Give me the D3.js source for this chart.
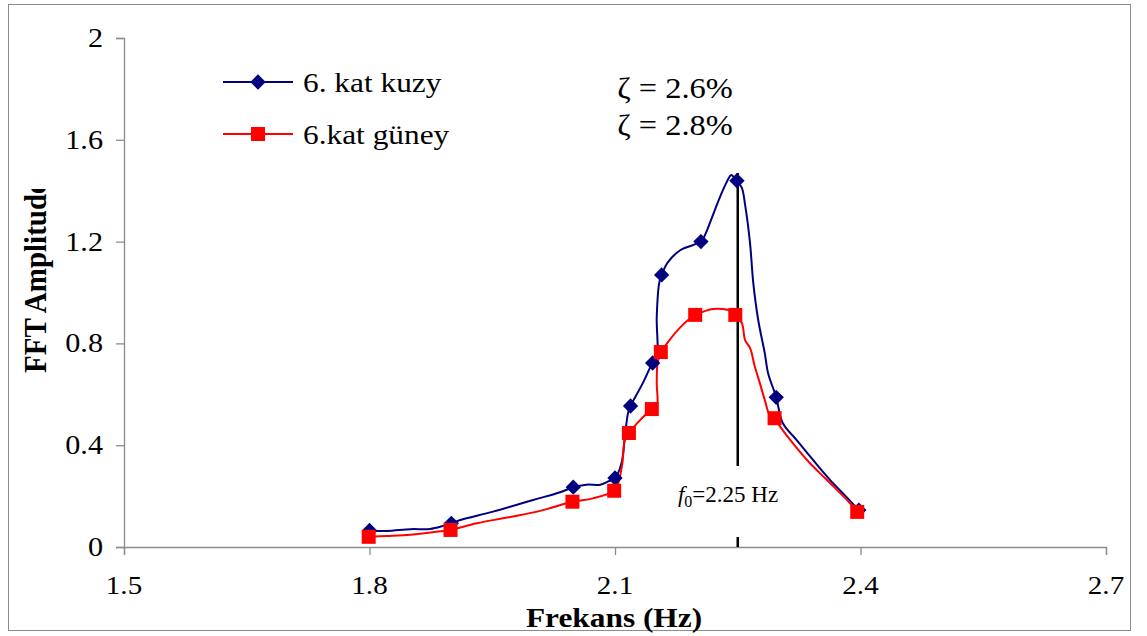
<!DOCTYPE html>
<html>
<head>
<meta charset="utf-8">
<script src="https://cdn.jsdelivr.net/npm/d3@7"></script>
<style>
  html, body { margin: 0; padding: 0; background: #fff; }
  svg { display: block; }
  text { font-family: "Liberation Serif", "Times New Roman", serif; fill: #000; }
</style>
</head>
<body>
<svg id="chart" width="1147" height="636"></svg>
<script>
// Axis ticks
const freqTicks = [1.5, 1.8, 2.1, 2.4, 2.7];
const freqTickLabels = ["1.5", "1.8", "2.1", "2.4", "2.7"];
const ampTicks = [0, 0.4, 0.8, 1.2, 1.6, 2];
const ampTickLabels = ["0", "0.4", "0.8", "1.2", "1.6", "2"];

// Series names
const seriesNames = ["6. kat kuzy", "6.kat güney"];

// 6th floor, north sensor: spectrum curve [frequency Hz, FFT amplitude]
const kuzyCurve = [
  [1.800, 0.065], [1.821, 0.063], [1.850, 0.070], [1.874, 0.071], [1.890, 0.083],
  [1.900, 0.093], [1.911, 0.106], [1.951, 0.139], [2.000, 0.185], [2.033, 0.215],
  [2.049, 0.235], [2.065, 0.245], [2.082, 0.245], [2.091, 0.257], [2.100, 0.271],
  [2.108, 0.330], [2.112, 0.432], [2.116, 0.527], [2.119, 0.554], [2.134, 0.644],
  [2.146, 0.723], [2.151, 0.740], [2.151, 0.904], [2.154, 1.037], [2.157, 1.069],
  [2.164, 1.116], [2.180, 1.167], [2.205, 1.200], [2.210, 1.226], [2.222, 1.324],
  [2.232, 1.403], [2.240, 1.455], [2.242, 1.462], [2.249, 1.439], [2.255, 1.411],
  [2.259, 1.344], [2.265, 1.194], [2.269, 1.037], [2.275, 0.892], [2.283, 0.762],
  [2.287, 0.684], [2.297, 0.588], [2.305, 0.487], [2.322, 0.420], [2.342, 0.342],
  [2.363, 0.263], [2.383, 0.196], [2.398, 0.145]
];
// north sensor: marked spectral lines
const kuzyMarkers = [
  [1.800, 0.065], [1.900, 0.093], [2.049, 0.235], [2.100, 0.271], [2.119, 0.554],
  [2.146, 0.723], [2.157, 1.069], [2.205, 1.200], [2.249, 1.439], [2.297, 0.588],
  [2.398, 0.145]
];

// 6th floor, south sensor: spectrum curve [frequency Hz, FFT amplitude]
const guneyCurve = [
  [1.799, 0.040], [1.821, 0.043], [1.850, 0.048], [1.890, 0.063], [1.899, 0.067],
  [1.931, 0.093], [1.972, 0.118], [2.012, 0.145], [2.048, 0.178], [2.073, 0.191],
  [2.099, 0.221], [2.104, 0.251], [2.109, 0.330], [2.112, 0.420], [2.117, 0.448],
  [2.145, 0.542], [2.151, 0.550], [2.151, 0.644], [2.152, 0.723], [2.156, 0.766],
  [2.164, 0.802], [2.180, 0.864], [2.198, 0.912], [2.208, 0.925], [2.220, 0.935],
  [2.232, 0.935], [2.241, 0.928], [2.247, 0.912], [2.255, 0.880], [2.259, 0.813],
  [2.265, 0.782], [2.271, 0.707], [2.277, 0.644], [2.283, 0.578], [2.289, 0.519],
  [2.295, 0.506], [2.302, 0.472], [2.317, 0.409], [2.338, 0.330], [2.359, 0.263],
  [2.387, 0.173], [2.396, 0.138]
];
// south sensor: marked spectral lines
const guneyMarkers = [
  [1.799, 0.040], [1.899, 0.067], [2.048, 0.178], [2.099, 0.221], [2.117, 0.448],
  [2.145, 0.542], [2.156, 0.766], [2.198, 0.912], [2.247, 0.912], [2.295, 0.506],
  [2.396, 0.138]
];

// Natural frequency marker and damping ratios
const naturalFreq = 2.25;
const naturalFreqTop = 1.47;
const dampingRatios = ["2.6%", "2.8%"];

const colors = ["#000080", "#FF0000"];
const SX = 1.12; // horizontal glyph stretch used by the chart text

const svg = d3.select("#chart");

// outer frame
svg.append("rect")
  .attr("x", 8.5).attr("y", 4.5)
  .attr("width", 1122).attr("height", 626)
  .attr("fill", "#fff").attr("stroke", "#8c8c8c").attr("stroke-width", 1);

const x = d3.scaleLinear().domain([1.5, 2.7]).range([124, 1106]);
const y = d3.scaleLinear().domain([0, 2]).range([547, 38]);

function stretched(sel, px, py, sx = SX) {
  return sel.attr("transform", `translate(${px},${py}) scale(${sx},1)`);
}

// y axis
const yAxis = svg.append("g")
  .attr("transform", `translate(${x.range()[0]},0)`)
  .call(d3.axisLeft(y).tickValues(ampTicks).tickSize(8).tickFormat(""));
yAxis.select(".domain").attr("stroke", "#8c8c8c").attr("stroke-width", 1.3);
yAxis.selectAll(".tick line").attr("stroke", "#8c8c8c").attr("stroke-width", 1.3);

// x axis
const xAxis = svg.append("g")
  .attr("transform", `translate(0,${y(0)})`)
  .call(d3.axisBottom(x).tickValues(freqTicks).tickSize(8).tickFormat(""));
xAxis.select(".domain").attr("stroke", "#8c8c8c").attr("stroke-width", 1.3);
xAxis.selectAll(".tick line").attr("stroke", "#8c8c8c").attr("stroke-width", 1.3);

// tick labels
ampTicks.forEach((v, i) => {
  stretched(svg.append("text"), 103, y(v) + 9)
    .attr("text-anchor", "end").attr("font-size", 27)
    .text(ampTickLabels[i]);
});
freqTicks.forEach((v, i) => {
  stretched(svg.append("text"), x(v), 594)
    .attr("text-anchor", "middle").attr("font-size", 26)
    .text(freqTickLabels[i]);
});

// axis titles
stretched(svg.append("text"), 614, 627)
  .attr("text-anchor", "middle").attr("font-size", 28).attr("font-weight", "bold")
  .text("Frekans (Hz)");

svg.append("clipPath").attr("id", "ytitle-clip")
  .append("rect").attr("x", 0).attr("y", 189).attr("width", 120).attr("height", 400);
svg.append("g").attr("clip-path", "url(#ytitle-clip)")
  .append("text")
  .attr("transform", `translate(46,373) rotate(-90) scale(1,${SX})`)
  .attr("text-anchor", "start").attr("font-size", 29).attr("font-weight", "bold")
  .text("FFT Amplitude");

// spectrum curves
const line = d3.line()
  .x(d => x(d[0])).y(d => y(d[1]))
  .curve(d3.curveCatmullRom.alpha(0.5));

const diamond = d3.symbol().type(d3.symbolDiamond2).size(150);

svg.append("path").datum(kuzyCurve)
  .attr("d", line).attr("fill", "none")
  .attr("stroke", colors[0]).attr("stroke-width", 2);

svg.append("path").datum(guneyCurve)
  .attr("d", line).attr("fill", "none")
  .attr("stroke", colors[1]).attr("stroke-width", 2);

// natural frequency line with its label
svg.append("line")
  .attr("x1", x(naturalFreq)).attr("x2", x(naturalFreq))
  .attr("y1", y(naturalFreqTop)).attr("y2", y(0))
  .attr("stroke", "#000").attr("stroke-width", 2.5);

svg.append("rect")
  .attr("x", 676).attr("y", 466).attr("width", 106).attr("height", 71)
  .attr("fill", "#fff");

const f0 = stretched(svg.append("text"), 728, 502, 1.0)
  .attr("text-anchor", "middle").attr("font-size", 23);
f0.append("tspan").attr("font-style", "italic").text("f");
f0.append("tspan").attr("font-size", 16).attr("dy", 5).text("0");
f0.append("tspan").attr("dy", -5).text(`=${naturalFreq} Hz`);

// markers
svg.selectAll(".kuzy-marker").data(kuzyMarkers).join("path")
  .attr("class", "kuzy-marker")
  .attr("transform", d => `translate(${x(d[0])},${y(d[1])})`)
  .attr("d", diamond).attr("fill", colors[0]);

svg.selectAll(".guney-marker").data(guneyMarkers).join("rect")
  .attr("class", "guney-marker")
  .attr("x", d => x(d[0]) - 7).attr("y", d => y(d[1]) - 7)
  .attr("width", 14).attr("height", 14)
  .attr("fill", colors[1]);

// damping ratios
dampingRatios.forEach((r, i) => {
  stretched(svg.append("text"), 675, 98 + i * 37)
    .attr("text-anchor", "middle").attr("font-size", 29)
    .text(`ζ = ${r}`);
});

// legend
const legend = svg.append("g");
seriesNames.forEach((name, i) => {
  const ly = [82, 134][i];
  legend.append("line")
    .attr("x1", 223).attr("x2", 293).attr("y1", ly).attr("y2", ly)
    .attr("stroke", colors[i]).attr("stroke-width", 2);
  if (i === 0) {
    legend.append("path")
      .attr("transform", `translate(258,${ly})`)
      .attr("d", diamond).attr("fill", colors[i]);
  } else {
    legend.append("rect")
      .attr("x", 251).attr("y", ly - 7).attr("width", 14).attr("height", 14)
      .attr("fill", colors[i]);
  }
  stretched(legend.append("text"), 303, ly + 10)
    .attr("font-size", 28)
    .text(name);
});
</script>
</body>
</html>
